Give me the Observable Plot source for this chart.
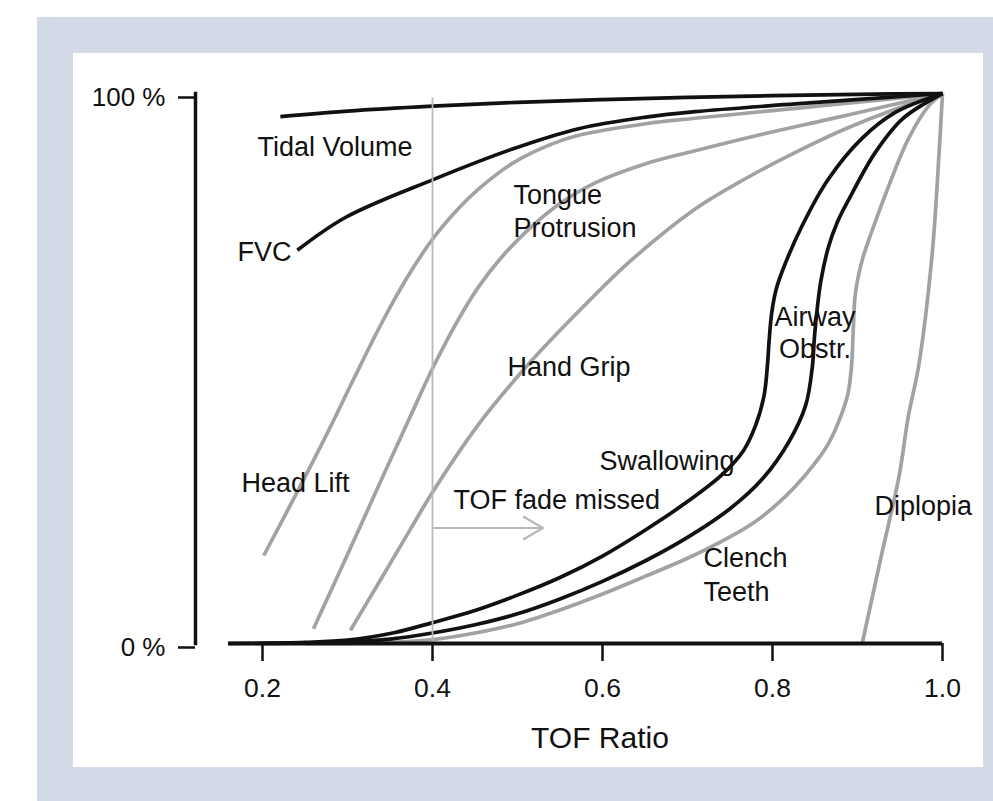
<!DOCTYPE html>
<html><head><meta charset="utf-8">
<script src="https://cdn.jsdelivr.net/npm/d3@7"></script>
<script src="https://cdn.jsdelivr.net/npm/@observablehq/plot@0.6"></script>
<style>
html,body{margin:0;padding:0;background:#fff;}
#bg{position:absolute;left:37px;top:17px;width:956px;height:784px;background:#d3dae7;}
#panel{position:absolute;left:73px;top:53px;width:910px;height:714px;background:#fff;}
#chart{position:absolute;left:0;top:0;}
</style></head><body>
<div id="bg"></div><div id="panel"></div><div id="chart"></div>
<script>
// TOF ratio (x) vs % of patients with the symptom / function (y)
const tidalVolume = [[0.221,95.8],[0.30,96.8],[0.40,97.7],[0.50,98.4],[0.60,98.9],[0.70,99.3],[0.80,99.6],[0.90,99.85],[1.0,100]];
const fvc = [[0.241,71.5],[0.298,77.5],[0.40,84.3],[0.494,89.9],[0.572,93.6],[0.651,95.7],[0.709,96.7],[0.827,98.1],[1.0,100]];
const headLift = [[0.2015,16],[0.239,27],[0.278,38.8],[0.307,48],[0.341,58.5],[0.37,66.5],[0.40,73.5],[0.43,79],[0.454,82.6],[0.494,87.3],[0.54,90.8],[0.572,92.4],[0.651,94.5],[0.709,95.5],[0.827,97.3],[0.945,99.1],[1.0,100]];
const tongueProtrusion = [[0.26,2.7],[0.298,15.5],[0.337,28.8],[0.376,42],[0.40,50],[0.43,58.8],[0.454,64.8],[0.48,70],[0.513,75.3],[0.55,80],[0.592,83.8],[0.65,87.2],[0.709,89.6],[0.788,92.6],[0.866,95.3],[0.945,98.1],[1.0,100]];
const handGrip = [[0.3035,2.4],[0.337,11.1],[0.376,21.3],[0.40,27.5],[0.454,39.8],[0.513,50.8],[0.572,60.4],[0.631,69.3],[0.709,79],[0.768,84.5],[0.827,89.3],[0.886,93.6],[0.945,97.2],[1.0,100]];
const swallowing = [[0.16,0],[0.25,0.2],[0.30,0.6],[0.356,2.0],[0.40,3.8],[0.45,6.0],[0.50,8.8],[0.55,12.0],[0.60,15.9],[0.65,20.6],[0.70,25.8],[0.74,30.6],[0.766,35.1],[0.78,39.6],[0.79,45],[0.794,50.5],[0.796,55],[0.799,60],[0.804,64.2],[0.811,67.5],[0.835,76],[0.866,84.5],[0.905,91.8],[0.945,96.6],[1.0,100]];
const airwayObstr = [[0.20,0],[0.30,0.3],[0.35,0.8],[0.40,1.9],[0.45,3.4],[0.50,5.4],[0.55,8.1],[0.60,11.3],[0.65,15.0],[0.70,19.3],[0.75,24.5],[0.788,29.9],[0.819,36.6],[0.839,43.3],[0.847,50.5],[0.849,55],[0.852,60],[0.857,66],[0.866,72.2],[0.876,76.5],[0.89,80.8],[0.921,89.3],[0.953,95.4],[1.0,100]];
const clenchTeeth = [[0.25,0],[0.35,0.2],[0.40,0.7],[0.45,1.9],[0.50,3.6],[0.55,6.1],[0.60,9.0],[0.65,12.2],[0.70,15.5],[0.75,19.4],[0.78,22.2],[0.805,25.3],[0.827,28.6],[0.85,32.8],[0.866,36.4],[0.8815,41.8],[0.889,45.6],[0.893,50.5],[0.895,57],[0.897,63],[0.901,66.8],[0.907,70.5],[0.917,75.0],[0.937,83.3],[0.96,91.8],[0.984,97.8],[1.0,100]];
const diplopia = [[0.9055,0],[0.929,16.6],[0.949,30.5],[0.96,41.5],[0.972,50.5],[0.988,71.1],[0.996,89.3],[1.0,100]];

const grayCurves = [headLift, tongueProtrusion, handGrip, clenchTeeth, diplopia];
const blackCurves = [tidalVolume, fvc, swallowing, airwayObstr];

const xTicks = [0.2, 0.4, 0.6, 0.8, 1.0];
const yTicks = [0, 100];
const xAxisLine = [{y: 0, x1: 0.16, x2: 1.0}];
const fadeLine = [{x: 0.4, y1: 0, y2: 99.2}];
const fadeArrow = [{x1: 0.4, x2: 0.53, y: 21}];

const labelsLeft = [
  {x: 0.194, y: 88.7, text: "Tidal Volume"},
  {x: 0.1706, y: 69.6, text: "FVC"},
  {x: 0.4953, y: 73.9, text: "Tongue\nProtrusion"},
  {x: 0.4882, y: 48.6, text: "Hand Grip"},
  {x: 0.1753, y: 27.5, text: "Head Lift"},
  {x: 0.4247, y: 24.4, text: "TOF fade missed"},
  {x: 0.5965, y: 31.6, text: "Swallowing"},
  {x: 0.7188, y: 7.8, text: "Clench\nTeeth"},
  {x: 0.92, y: 23.4, text: "Diplopia"}
];
const labelsCenter = [{x: 0.85, y: 51.9, text: "Airway\nObstr."}];
const xTitle = [{x: 0.597, text: "TOF Ratio"}];

const GRAY = "#a2a2a2", BLACK = "#111", LIGHT = "#b8b8b8";
const lineOpts = (stroke) => ({x: d => d[0], y: d => d[1], stroke, strokeWidth: 3.7, curve: "catmull-rom", strokeLinecap: "butt"});

const chart = Plot.plot({
  width: 993, height: 801,
  marginLeft: 195, marginRight: 51, marginTop: 93, marginBottom: 158,
  style: {background: "transparent", fontFamily: "'Liberation Sans', Arial, Helvetica, sans-serif", color: "#111", overflow: "visible"},
  x: {domain: [0.2, 1.0], range: [262, 942]},
  y: {domain: [0, 100], range: [643, 93]},
  marks: [
    ...grayCurves.map(c => Plot.line(c, lineOpts(GRAY))),
    ...blackCurves.map(c => Plot.line(c, lineOpts(BLACK))),
    Plot.ruleX(fadeLine, {x: "x", y1: "y1", y2: "y2", stroke: LIGHT, strokeWidth: 1.8}),
    Plot.arrow(fadeArrow, {x1: "x1", x2: "x2", y1: "y", y2: "y", stroke: LIGHT, strokeWidth: 2.2, headLength: 15, bend: 0}),
    Plot.ruleY(xAxisLine, {y: "y", x1: "x1", x2: "x2", stroke: BLACK, strokeWidth: 4}),
    Plot.axisX({ticks: xTicks, tickFormat: d => d.toFixed(1), tickSize: 18, tickPadding: 17, fontSize: 26.5, strokeWidth: 2.5, label: null}),
    Plot.axisY({ticks: yTicks, tickFormat: d => `${d} %`, tickSize: 17, tickPadding: 13, fontSize: 26, strokeWidth: 2.5, dy: 4, label: null}),
    Plot.frame({anchor: "left", stroke: BLACK, strokeWidth: 3.5}),
    Plot.text(xTitle, {x: "x", text: "text", frameAnchor: "bottom", dy: 104, lineAnchor: "bottom", fontSize: 30, fill: BLACK}),
    Plot.text(labelsLeft, {x: "x", y: "y", text: "text", textAnchor: "start", lineAnchor: "bottom", fontSize: 27, lineHeight: 1.23, fill: BLACK}),
    Plot.text(labelsCenter, {x: "x", y: "y", text: "text", textAnchor: "middle", lineAnchor: "bottom", fontSize: 27, lineHeight: 1.2, fill: BLACK})
  ]
});
document.getElementById("chart").appendChild(chart);
</script>
</body></html>
